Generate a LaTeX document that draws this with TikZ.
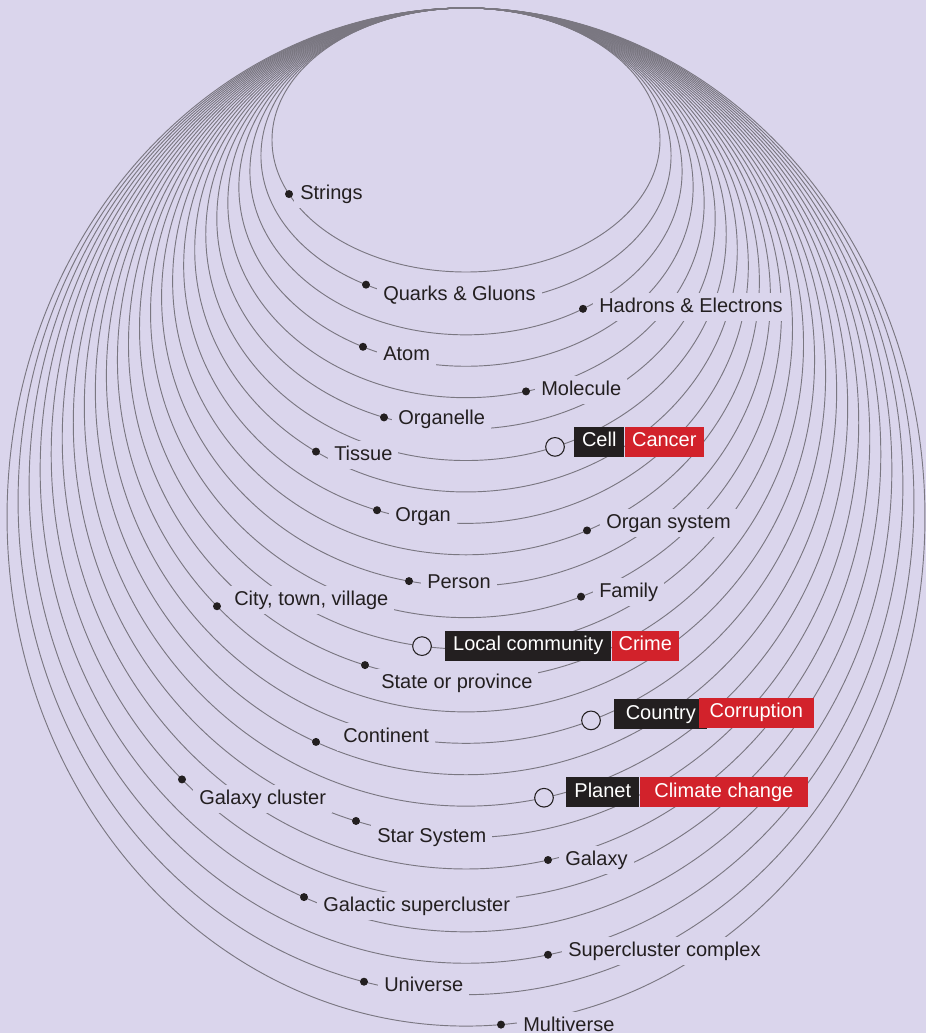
\documentclass[tikz,border=0pt]{standalone}
\usepackage{fontspec}
\setmainfont{Liberation Sans}

\begin{document}
\begin{tikzpicture}[x=0.75pt, y=-0.75pt,
    ring/.style={draw=lineGrey, line width=0.7pt},
    dot/.style={circle, fill=inkColour, inner sep=0pt, minimum size=6pt},
    hole/.style={circle, draw=inkColour, fill=bgColour, line width=0.8pt, inner sep=0pt, minimum size=14pt},
    lbl/.style={anchor=base west, fill=bgColour, text=inkColour, inner xsep=4.5pt, inner ysep=3pt,
        text height=11pt, text depth=3.5pt, font=\fontsize{15}{18}\selectfont},
    tag/.style={anchor=west, fill=inkColour, text=white, inner xsep=4pt, inner ysep=0pt,
        text height=11pt, text depth=3.5pt, minimum height=22.5pt, font=\fontsize{15}{18}\selectfont},
    alarm/.style={tag, fill=alarmRed}]
    \definecolor{bgColour}{HTML}{DAD5EC}
    \definecolor{lineGrey}{HTML}{7A7781}
    \definecolor{inkColour}{HTML}{231F20}
    \definecolor{alarmRed}{HTML}{D2222B}

    \def\midX{466}
    \def\topY{8}
    \def\aMin{194}
    \def\aStep{11.04}
    \def\bMin{132}
    \def\bStep{15.71}

    \path[use as bounding box, fill=bgColour] (0,0) rectangle (926,1033);

    % nested rings, all touching at the top
    \foreach \i in {0,...,24} {
        \pgfmathsetmacro\ra{\aMin+\aStep*\i}
        \pgfmathsetmacro\rb{\bMin+\bStep*\i}
        \draw[ring] (\midX,\topY+\rb) ellipse [x radius=\ra, y radius=\rb];
    }

    % scale labels
    \node[lbl] (l-strings) at (294,199) {Strings};
    \node[lbl] (l-quarks) at (377,300) {Quarks \& Gluons};
    \node[lbl] (l-hadrons) at (593,312) {Hadrons \& Electrons};
    \node[lbl] (l-atom) at (377,360) {Atom};
    \node[lbl] (l-molecule) at (535,395) {Molecule};
    \node[lbl] (l-organelle) at (392,424) {Organelle};
    \node[lbl] (l-tissue) at (328,460) {Tissue};
    \node[lbl] (l-organ) at (389,521) {Organ};
    \node[lbl] (l-organsys) at (600,528) {Organ system};
    \node[lbl] (l-person) at (421,588) {Person};
    \node[lbl] (l-family) at (593,597) {Family};
    \node[lbl] (l-city) at (228,605) {City, town, village};
    \node[lbl] (l-state) at (375,688) {State or province};
    \node[lbl] (l-continent) at (337,742) {Continent};
    \node[lbl] (l-galcluster) at (193,804) {Galaxy cluster};
    \node[lbl] (l-starsys) at (371,842) {Star System};
    \node[lbl] (l-galaxy) at (559,865) {Galaxy};
    \node[lbl] (l-galsuper) at (317,911) {Galactic supercluster};
    \node[lbl] (l-supercomplex) at (562,956) {Supercluster complex};
    \node[lbl] (l-universe) at (378,991) {Universe};
    \node[lbl] (l-multiverse) at (517,1031) {Multiverse};

    % scales with a problem attached
    \node[tag, minimum width=37.5pt] (t-cell) at (574,441.5) {Cell};
    \node[alarm, minimum width=59.25pt] (a-cell) at (t-cell.east) {Cancer};
    \node[tag, minimum width=124.5pt] (t-local) at (445,645.5) {Local community};
    \node[alarm, minimum width=50.25pt] (a-local) at (t-local.east) {Crime};
    \node[tag, minimum width=69.75pt] (t-country) at (614,714) {Country};
    \node[alarm, minimum width=86.25pt] (a-country) at ([xshift=-6.75pt, yshift=1.1pt]t-country.east) {Corruption};
    \node[tag, minimum width=54.75pt] (t-planet) at (566,792) {Planet};
    \node[alarm, minimum width=126pt] (a-planet) at (t-planet.east) {Climate change};

    % markers sitting on the rings
    \foreach \i/\dx/\nm in {0/289/strings, 1/366/quarks, 2/583/hadrons, 3/363/atom, 4/526/molecule,
            5/384/organelle, 7/316/tissue, 8/377/organ, 9/587/organsys, 10/409/person, 11/581/family,
            13/365/state, 14/217/city, 16/316/continent, 18/356/starsys, 19/548/galaxy,
            20/182/galcluster, 21/304/galsuper, 22/548/supercomplex, 23/364/universe, 24/501/multiverse} {
        \pgfmathsetmacro\ra{\aMin+\aStep*\i}
        \pgfmathsetmacro\rb{\bMin+\bStep*\i}
        \pgfmathsetmacro\dy{\topY+\rb+\rb*sqrt(1-((\dx-\midX)/\ra)*((\dx-\midX)/\ra))}
        \node[dot] (d-\nm) at (\dx,\dy) {};
    }
    \foreach \i/\dx/\nm in {6/555/cell, 12/422/local, 15/591/country, 17/544/planet} {
        \pgfmathsetmacro\ra{\aMin+\aStep*\i}
        \pgfmathsetmacro\rb{\bMin+\bStep*\i}
        \pgfmathsetmacro\dy{\topY+\rb+\rb*sqrt(1-((\dx-\midX)/\ra)*((\dx-\midX)/\ra))}
        \node[hole] (h-\nm) at (\dx,\dy) {};
    }

\end{tikzpicture}
\end{document}
